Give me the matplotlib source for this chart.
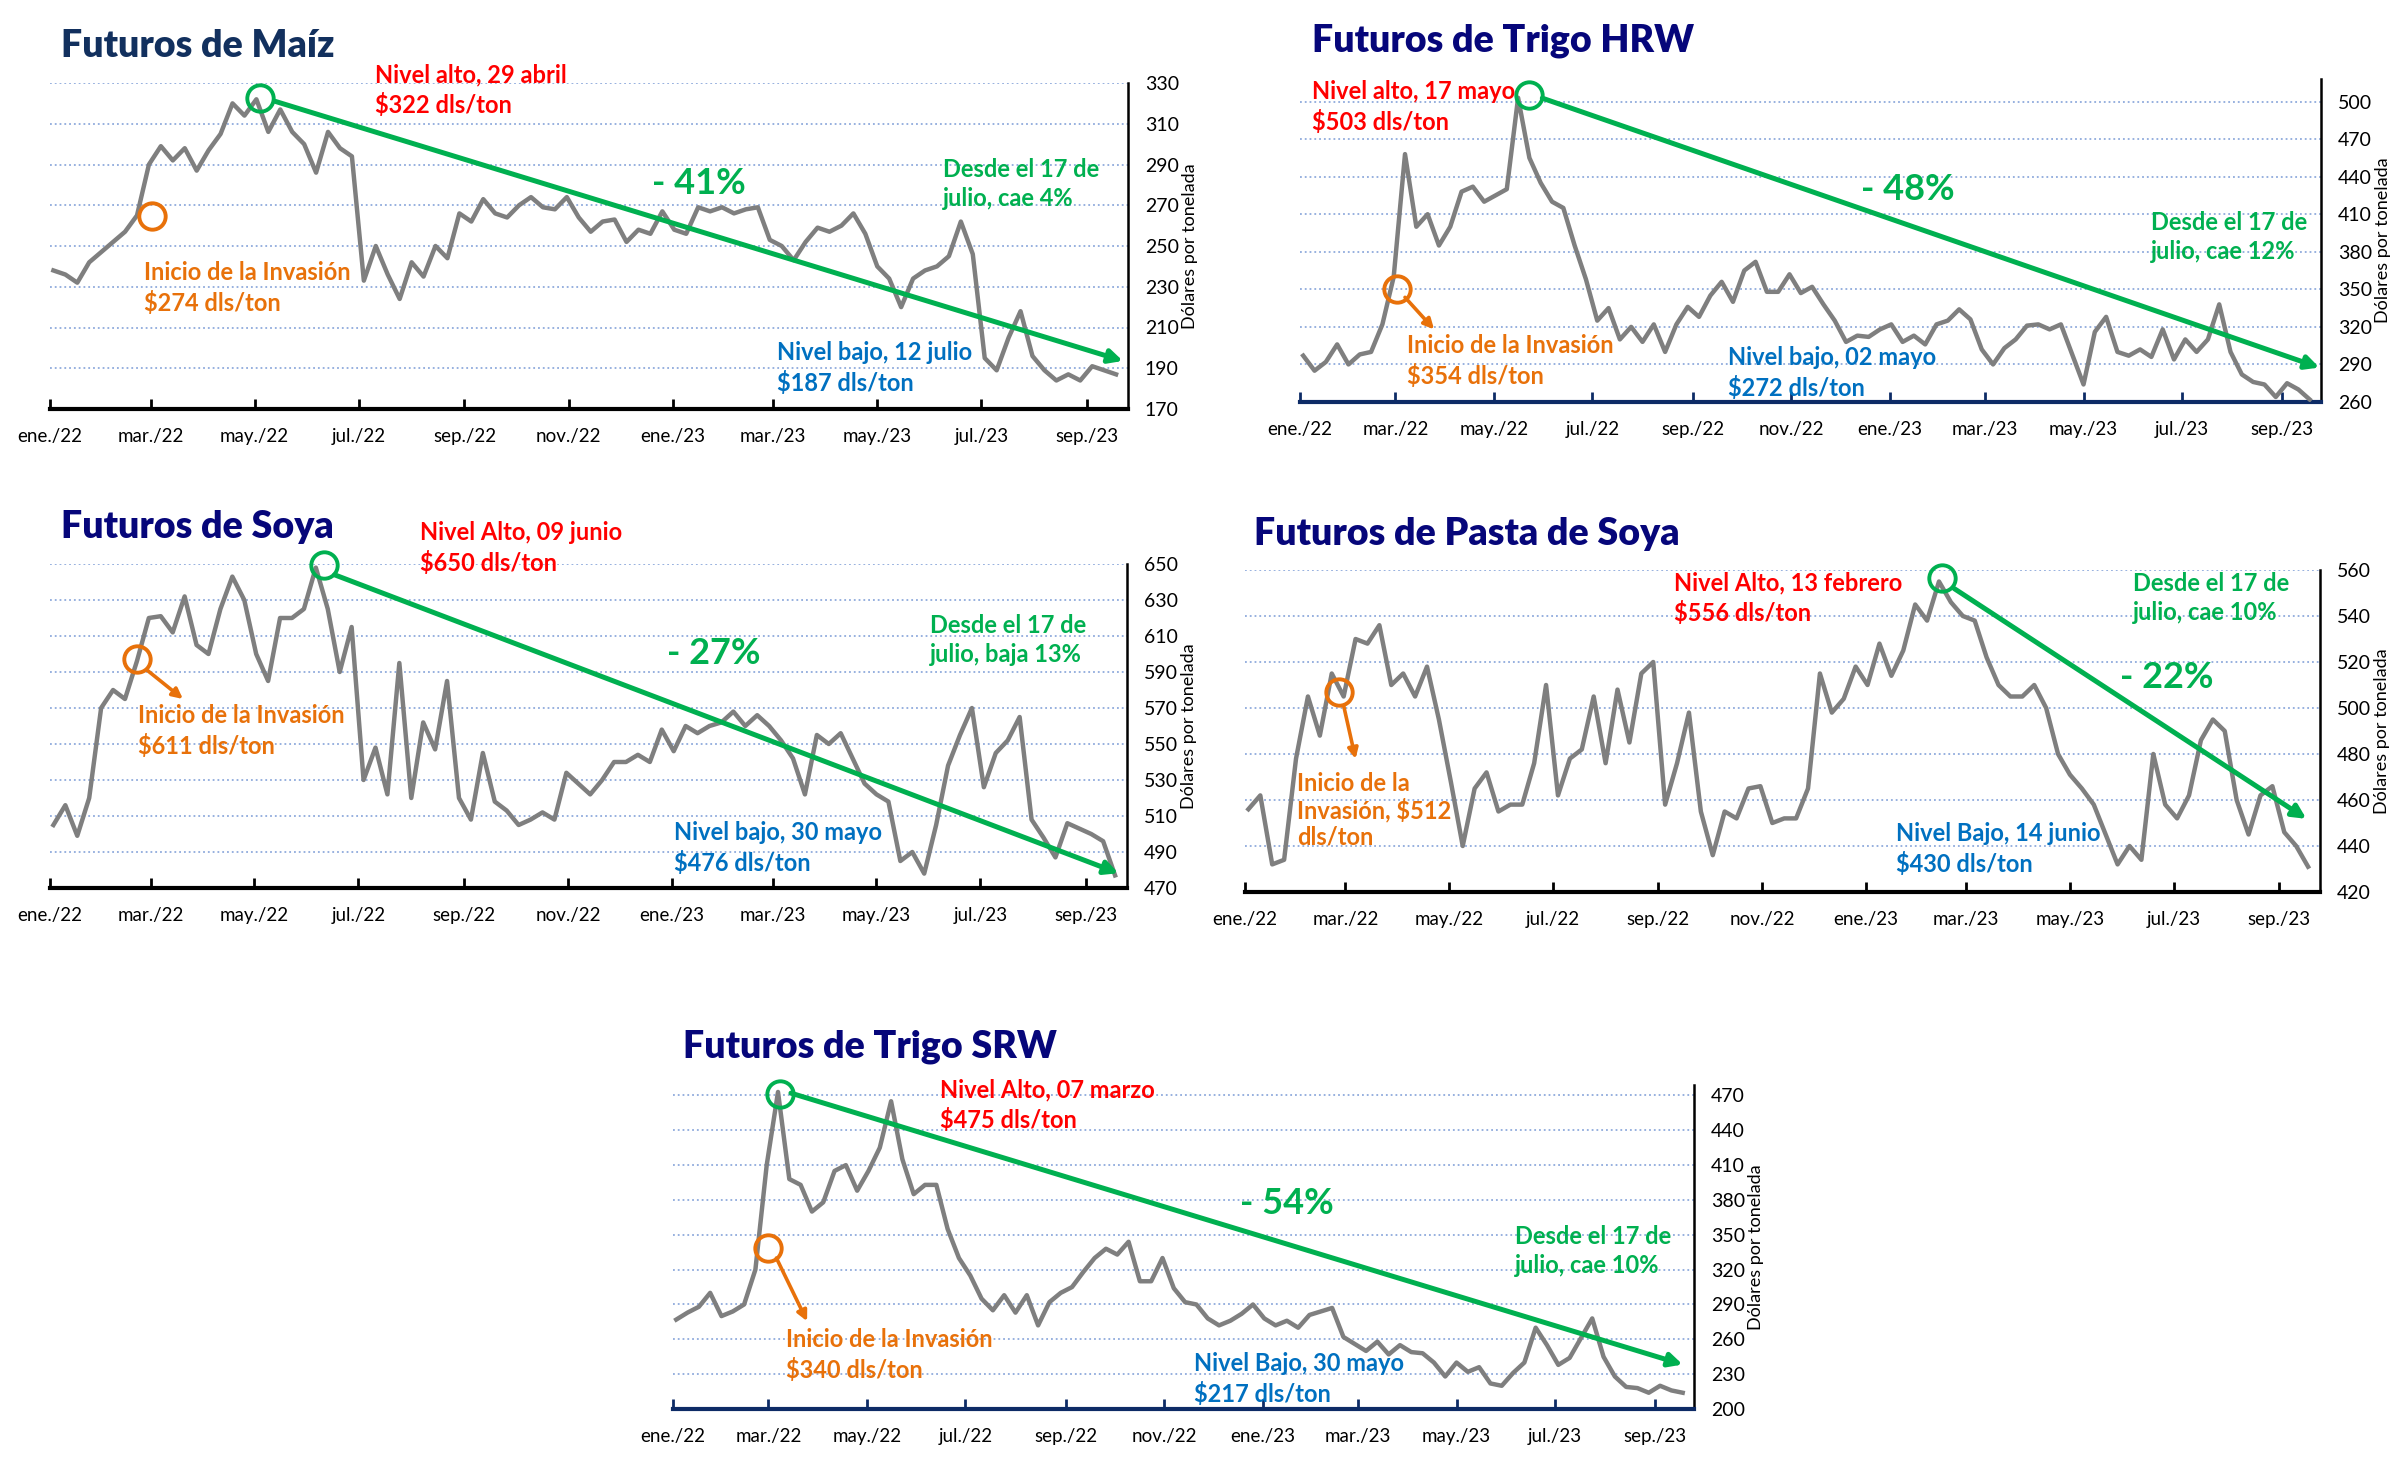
import numpy as np
import pandas as pd
import matplotlib
matplotlib.use('Agg')
import matplotlib.pyplot as plt

# precios semanales (dolares por tonelada), ene/22 - sep/23
semanas = pd.date_range('2022-01-03', periods=90, freq='7D')

maiz = [238, 236, 232, 242, 247, 252, 257, 265, 290, 299, 292, 298, 287, 297, 305, 320, 314, 322,
        306, 317, 306, 300, 286, 306, 298, 294, 233, 250, 236, 224, 242, 235, 250, 244, 266, 262,
        273, 266, 264, 270, 274, 269, 268, 274, 264, 257, 262, 263, 252, 258, 256, 267, 258, 256,
        269, 267, 269, 266, 268, 269, 253, 250, 243, 252, 259, 257, 260, 266, 256, 240, 234, 220,
        234, 238, 240, 245, 262, 246, 195, 189, 205, 218, 196, 189, 184, 187, 184, 191, 189, 187]

trigo_hrw = [297, 285, 292, 306, 290, 298, 300, 322, 360, 458, 400, 410, 385, 400, 428, 432, 420, 425,
             430, 503, 455, 435, 420, 415, 385, 358, 325, 335, 310, 320, 308, 322, 300, 322, 336, 328,
             345, 356, 340, 365, 372, 348, 348, 362, 347, 352, 338, 325, 308, 313, 312, 318, 322, 308,
             313, 306, 322, 325, 334, 326, 302, 290, 303, 310, 321, 322, 318, 322, 298, 274, 316, 328,
             300, 297, 302, 296, 318, 294, 310, 300, 310, 338, 300, 282, 276, 274, 264, 275, 270, 262]

soya = [505, 516, 499, 520, 570, 580, 575, 596, 620, 621, 612, 632, 605, 600, 625, 643, 630, 600,
        585, 620, 620, 625, 648, 625, 590, 615, 530, 548, 522, 595, 520, 562, 547, 585, 520, 508,
        545, 518, 513, 505, 508, 512, 508, 534, 528, 522, 530, 540, 540, 544, 540, 558, 546, 560,
        556, 560, 562, 568, 560, 566, 560, 552, 542, 522, 555, 550, 556, 542, 528, 522, 518, 485,
        490, 478, 505, 538, 555, 570, 526, 545, 552, 565, 508, 498, 487, 506, 503, 500, 496, 477]

pasta_soya = [456, 462, 432, 434, 478, 505, 488, 515, 505, 530, 528, 536, 510, 515, 505, 518, 495, 468,
              440, 465, 472, 455, 458, 458, 476, 510, 462, 478, 482, 505, 476, 508, 485, 515, 520, 458,
              476, 498, 455, 436, 455, 452, 465, 466, 450, 452, 452, 465, 515, 498, 504, 518, 510, 528,
              514, 525, 545, 538, 555, 546, 540, 538, 522, 510, 505, 505, 510, 500, 480, 471, 465, 458,
              445, 432, 440, 434, 480, 458, 452, 462, 486, 495, 490, 460, 445, 462, 466, 446, 440, 431]

trigo_srw = [277, 283, 288, 300, 280, 284, 290, 320, 410, 473, 398, 393, 370, 378, 405, 410, 388, 405,
             425, 465, 415, 385, 393, 393, 355, 330, 315, 295, 285, 298, 283, 298, 272, 292, 300, 305,
             318, 330, 338, 333, 344, 310, 310, 330, 304, 292, 290, 278, 272, 276, 282, 290, 278, 272,
             276, 270, 281, 284, 287, 262, 256, 250, 258, 247, 255, 249, 248, 240, 228, 240, 232, 236,
             222, 220, 231, 240, 270, 255, 238, 244, 261, 278, 245, 228, 219, 218, 214, 220, 216, 214]

meses_x = pd.date_range('2022-01-01', '2023-09-01', freq='2MS')
etiquetas_x = ['ene./22', 'mar./22', 'may./22', 'jul./22', 'sep./22', 'nov./22',
               'ene./23', 'mar./23', 'may./23', 'jul./23', 'sep./23']

titulos = ['Futuros de Maíz', 'Futuros de Trigo HRW', 'Futuros de Soya',
           'Futuros de Pasta de Soya', 'Futuros de Trigo SRW']
series = [maiz, trigo_hrw, soya, pasta_soya, trigo_srw]
limites_y = [(170, 330), (260, 518), (470, 650), (420, 560), (200, 479)]
ticks_y = [range(170, 331, 20), range(260, 501, 30), range(470, 651, 20),
           range(420, 561, 20), range(200, 471, 30)]

# circulo verde (maximo) y flecha de tendencia
pico = [('2022-05-04', 322.5), ('2022-05-23', 505), ('2022-06-11', 649.4),
        ('2023-02-15', 556.7), ('2022-03-08', 471)]
flecha_ini = [('2022-05-13', 321), ('2022-05-31', 502.7), ('2022-06-17', 644),
              ('2023-02-22', 551.9), ('2022-03-15', 472)]
flecha_fin = [('2023-09-22', 193.6), ('2023-09-24', 287.5), ('2023-09-20', 478.2),
              ('2023-09-17', 451.8), ('2023-09-18', 238.3)]
# circulo naranja (inicio de la invasion) y flecha corta
invasion = [('2022-03-02', 264.9), ('2022-03-02', 350), ('2022-02-21', 597),
            ('2022-02-25', 507), ('2022-03-01', 338.7)]
inv_flecha_ini = [None, ('2022-03-07', 343.6), ('2022-02-27', 591),
                  ('2022-02-28', 501), ('2022-03-06', 330)]
inv_flecha_fin = [None, ('2022-03-25', 318), ('2022-03-20', 575),
                  ('2022-03-07', 477.9), ('2022-03-25', 275.6)]

textos_alto = ['Nivel alto, 29 abril\n$322 dls/ton', 'Nivel alto, 17 mayo\n$503 dls/ton',
               'Nivel Alto, 09 junio\n$650 dls/ton', 'Nivel Alto, 13 febrero\n$556 dls/ton',
               'Nivel Alto, 07 marzo\n$475 dls/ton']
textos_inv = ['Inicio de la Invasión\n$274 dls/ton', 'Inicio de la Invasión\n$354 dls/ton',
              'Inicio de la Invasión\n$611 dls/ton', 'Inicio de la\nInvasión, $512\ndls/ton',
              'Inicio de la Invasión\n$340 dls/ton']
textos_caida = ['- 41%', '- 48%', '- 27%', '- 22%', '- 54%']
textos_julio = ['Desde el 17 de\njulio, cae 4%', 'Desde el 17 de\njulio, cae 12%',
                'Desde el 17 de\njulio, baja 13%', 'Desde el 17 de\njulio, cae 10%',
                'Desde el 17 de\njulio, cae 10%']
textos_bajo = ['Nivel bajo, 12 julio\n$187 dls/ton', 'Nivel bajo, 02 mayo\n$272 dls/ton',
               'Nivel bajo, 30 mayo\n$476 dls/ton', 'Nivel Bajo, 14 junio\n$430 dls/ton',
               'Nivel Bajo, 30 mayo\n$217 dls/ton']

# posiciones en pixeles de la figura
W, H = 2398, 1461
cajas = [(50, 83, 1128, 409), (1300, 79, 2321, 402), (50, 564, 1127, 888),
         (1245, 570, 2320, 892), (673, 1085, 1694, 1409)]
pos_titulo = [(61, 46), (1312, 41), (61, 527), (1254, 534), (683, 1047)]
pos_alto = [(375, 90), (1312, 107), (420, 548), (1674, 598), (940, 1105)]
pos_inv = [(144, 288), (1407, 361), (138, 731), (1297, 810), (786, 1355)]
pos_caida = [(699, 183), (1908, 190), (714, 653), (2167, 677), (1287, 1203)]
pos_julio = [(943, 184), (2151, 237), (930, 640), (2133, 598), (1515, 1251)]
pos_bajo = [(777, 368), (1728, 373), (674, 848), (1896, 849), (1194, 1379)]
color_titulo = ['#12305E', '#06067A', '#06067A', '#06067A', '#06067A']
color_eje = ['black', '#0D2B66', 'black', 'black', '#0D2B66']

verde = '#00B050'
rojo = '#FF0000'
naranja = '#E8710A'
azul = '#0070C0'
fuente = 'Lato'

fig = plt.figure(figsize=(W / 100, H / 100), dpi=100)
fig.patch.set_facecolor('white')

for i in range(5):
    x0, y0, x1, y1 = cajas[i]
    ax = fig.add_axes([x0 / W, 1 - y1 / H, (x1 - x0) / W, (y1 - y0) / H])
    ax.plot(semanas, series[i], color='#7F7F7F', lw=3.2, zorder=3)
    ax.set_xlim(pd.Timestamp('2022-01-01'), pd.Timestamp('2023-09-25'))
    ax.set_ylim(*limites_y[i])
    ax.set_yticks(list(ticks_y[i]))
    ax.yaxis.tick_right()
    ax.grid(axis='y', color='#8FAADC', ls=':', lw=1.3)
    ax.set_axisbelow(True)
    ax.set_xticks(meses_x)
    ax.set_xticklabels(etiquetas_x, fontsize=13.5, family=fuente)
    for t in ax.get_yticklabels():
        t.set_fontsize(14)
        t.set_family(fuente)
    ax.tick_params(axis='x', direction='in', length=7, width=2, pad=14, color=color_eje[i])
    ax.tick_params(axis='y', length=0, pad=12)
    for s in ['top', 'left']:
        ax.spines[s].set_visible(False)
    ax.spines['right'].set_linewidth(1.8)
    ax.spines['bottom'].set_linewidth(3)
    ax.spines['bottom'].set_color(color_eje[i])
    ax.patch.set_alpha(0)
    ax.annotate('Dólares por tonelada', xy=(1, 0.5), xycoords='axes fraction',
                xytext=(62, 0), textcoords='offset pixels', rotation=90,
                ha='center', va='center', fontsize=13, family=fuente)

    # flecha de tendencia y circulos
    a = flecha_ini[i]
    b = flecha_fin[i]
    ax.annotate('', xy=(pd.Timestamp(b[0]), b[1]), xytext=(pd.Timestamp(a[0]), a[1]),
                arrowprops=dict(arrowstyle='-|>,head_length=0.8,head_width=0.4',
                                color=verde, lw=3.6, shrinkA=0, shrinkB=0),
                annotation_clip=False, zorder=6)
    ax.plot(pd.Timestamp(pico[i][0]), pico[i][1], 'o', ms=19, mfc='none', mec=verde,
            mew=2.8, clip_on=False, zorder=7)
    ax.plot(pd.Timestamp(invasion[i][0]), invasion[i][1], 'o', ms=19, mfc='none',
            mec=naranja, mew=2.8, clip_on=False, zorder=7)
    if inv_flecha_ini[i] is not None:
        a = inv_flecha_ini[i]
        b = inv_flecha_fin[i]
        ax.annotate('', xy=(pd.Timestamp(b[0]), b[1]), xytext=(pd.Timestamp(a[0]), a[1]),
                    arrowprops=dict(arrowstyle='-|>,head_length=0.6,head_width=0.3',
                                    color=naranja, lw=2.6, shrinkA=0, shrinkB=0),
                    annotation_clip=False, zorder=6)

    # textos
    fig.text(pos_titulo[i][0] / W, 1 - pos_titulo[i][1] / H, titulos[i], ha='left',
             va='center', fontsize=27, fontweight='heavy', family=fuente, color=color_titulo[i])
    fig.text(pos_alto[i][0] / W, 1 - pos_alto[i][1] / H, textos_alto[i], ha='left',
             va='center', fontsize=17, fontweight='bold', family=fuente, color=rojo,
             linespacing=1.35)
    esp = 1.15 if i == 3 else 1.35
    fig.text(pos_inv[i][0] / W, 1 - pos_inv[i][1] / H, textos_inv[i], ha='left',
             va='center', fontsize=17, fontweight='bold', family=fuente, color=naranja,
             linespacing=esp)
    fig.text(pos_caida[i][0] / W, 1 - pos_caida[i][1] / H, textos_caida[i], ha='center',
             va='center', fontsize=26, fontweight='bold', family=fuente, color=verde)
    fig.text(pos_julio[i][0] / W, 1 - pos_julio[i][1] / H, textos_julio[i], ha='left',
             va='center', fontsize=17, fontweight='bold', family=fuente, color=verde,
             linespacing=1.35)
    fig.text(pos_bajo[i][0] / W, 1 - pos_bajo[i][1] / H, textos_bajo[i], ha='left',
             va='center', fontsize=17, fontweight='bold', family=fuente, color=azul,
             linespacing=1.35)

fig.savefig('out.png', dpi=100)
